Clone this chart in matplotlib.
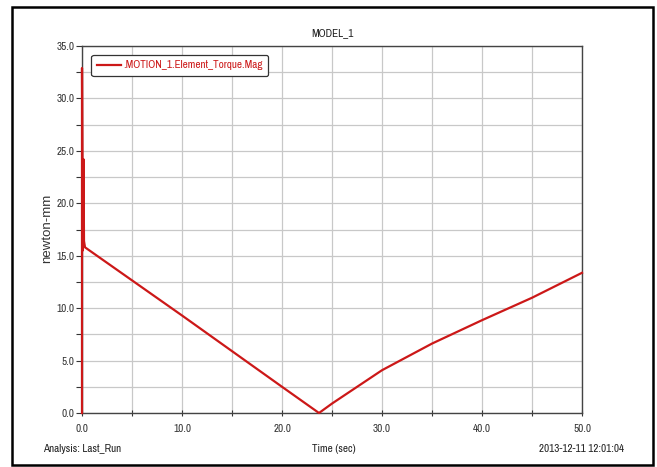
import numpy as np
import matplotlib.pyplot as plt
from matplotlib.patches import Rectangle

# Torque magnitude vs time
time_sec = [0.0, 0.0, 0.08, 0.15, 0.2, 0.3, 10.0, 20.0, 23.7,
            25.0, 30.0, 35.0, 40.0, 45.0, 50.0]
torque = [0.0, 32.9, 15.5, 24.2, 16.4, 15.8, 9.3, 2.5, 0.0,
          0.9, 4.08, 6.62, 8.85, 10.99, 13.37]

series_name = '.MOTION_1.Element_Torque.Mag'
x_ticks = [0, 10, 20, 30, 40, 50]
y_ticks = [0, 5, 10, 15, 20, 25, 30, 35]

plt.rcParams['font.family'] = ['Archivo Narrow', 'DejaVu Sans']
red = '#cc1818'
txt = '#222222'
fs = 8

fig = plt.figure(figsize=(6.57, 4.67), dpi=100)
ax = fig.add_axes([82/657, 54/467, 500/657, 367/467])

ax.plot(time_sec, torque, color=red, linewidth=1.6, label=series_name,
        clip_on=False, zorder=5)

ax.set_xlim(0, 50)
ax.set_ylim(0, 35)
ax.set_xticks(x_ticks)
ax.set_xticklabels([f'{v:.1f}' for v in x_ticks])
ax.set_xticks(np.arange(0, 51, 5), minor=True)
ax.set_yticks(y_ticks)
ax.set_yticklabels([f'{v:.1f}' for v in y_ticks])
ax.set_yticks(np.arange(0, 35.1, 2.5), minor=True)

ax.grid(True, which='both', color='#c8c8c8', linewidth=0.9)
ax.set_axisbelow(True)
ax.tick_params(axis='both', which='both', labelsize=fs, colors='#333333',
               length=4, width=0.8)
ax.tick_params(axis='x', which='both', direction='inout', pad=6)
ax.tick_params(axis='y', which='both', direction='out', pad=1.5)
for s in ax.spines.values():
    s.set_color('#444444')
    s.set_linewidth(1.0)

ax.set_title('MODEL_1', fontsize=fs, pad=7, color=txt)
ax.set_ylabel('newton-mm', fontsize=9.5, color='#333333',
              family=['Liberation Sans', 'DejaVu Sans'])
ax.yaxis.set_label_coords(-29/500, (413 - 228)/367)

leg = ax.legend(loc='upper left', bbox_to_anchor=(0.012, 0.985), fontsize=fs,
                frameon=True, fancybox=True, handlelength=2.2,
                handletextpad=0.15, borderpad=0.5, borderaxespad=0.3)
leg.get_frame().set_edgecolor('#333333')
leg.get_frame().set_linewidth(0.9)
leg.get_frame().set_alpha(1)
for t in leg.get_texts():
    t.set_color(red)

fig.text(43/657, 1 - 449/467, 'Analysis: Last_Run', fontsize=fs,
         ha='left', va='center', color=txt)
fig.text(334/657, 1 - 449/467, 'Time (sec)', fontsize=fs,
         ha='center', va='center', color=txt)
fig.text(624/657, 1 - 449/467, '2013-12-11 12:01:04', fontsize=fs,
         ha='right', va='center', color=txt)

# outer frame
fig.patches.append(Rectangle((12/657, 2/467), 641/657, 458/467,
                             transform=fig.transFigure, fill=False,
                             edgecolor='black', linewidth=1.8))

fig.savefig('out.png', dpi=100)
